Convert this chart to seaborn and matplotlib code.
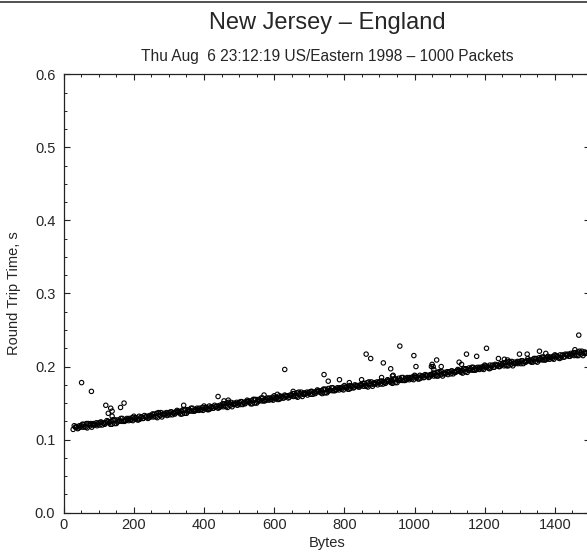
import numpy as np
import pandas as pd
import matplotlib
matplotlib.use("Agg")
import matplotlib.pyplot as plt
from matplotlib.ticker import MultipleLocator, FormatStrFormatter
from matplotlib.lines import Line2D
import seaborn as sns

# main band of round trip times (four interleaved runs)
bytes_a = [30, 40, 50, 60, 70, 80, 90, 100, 110, 120,
           130, 140, 150, 160, 170, 180, 190, 200, 210, 220,
           230, 240, 250, 260, 270, 280, 290, 300, 310, 320,
           330, 340, 350, 360, 370, 380, 390, 400, 410, 420,
           430, 440, 450, 460, 470, 480, 490, 500, 510, 520,
           530, 540, 550, 560, 570, 580, 590, 600, 610, 620,
           630, 640, 650, 660, 670, 680, 690, 700, 710, 720,
           730, 740, 750, 760, 770, 780, 790, 800, 810, 820,
           830, 840, 850, 860, 870, 880, 890, 900, 910, 920,
           930, 940, 950, 960, 970, 980, 990, 1000, 1010, 1020,
           1030, 1040, 1050, 1060, 1070, 1080, 1090, 1100, 1110, 1120,
           1130, 1140, 1150, 1160, 1170, 1180, 1190, 1200, 1210, 1220,
           1230, 1240, 1250, 1260, 1270, 1280, 1290, 1300, 1310, 1320,
           1330, 1340, 1350, 1360, 1370, 1380, 1390, 1400, 1410, 1420,
           1430, 1440, 1450, 1460, 1470, 1480, 1490]
rtt_a = [0.119, 0.115, 0.119, 0.118, 0.122, 0.117, 0.121, 0.123, 0.120, 0.123,
         0.123, 0.127, 0.122, 0.126, 0.125, 0.129, 0.127, 0.132, 0.127, 0.131,
         0.133, 0.129, 0.133, 0.132, 0.137, 0.131, 0.135, 0.137, 0.134, 0.138,
         0.137, 0.141, 0.136, 0.140, 0.139, 0.143, 0.141, 0.146, 0.141, 0.145,
         0.147, 0.143, 0.147, 0.146, 0.151, 0.145, 0.149, 0.151, 0.148, 0.152,
         0.151, 0.155, 0.150, 0.154, 0.153, 0.157, 0.155, 0.160, 0.155, 0.159,
         0.161, 0.157, 0.161, 0.160, 0.165, 0.159, 0.163, 0.165, 0.162, 0.166,
         0.165, 0.169, 0.164, 0.168, 0.167, 0.171, 0.170, 0.174, 0.169, 0.173,
         0.175, 0.172, 0.175, 0.174, 0.179, 0.173, 0.177, 0.179, 0.176, 0.180,
         0.179, 0.183, 0.178, 0.182, 0.181, 0.185, 0.184, 0.188, 0.183, 0.187,
         0.189, 0.185, 0.189, 0.188, 0.193, 0.187, 0.191, 0.193, 0.190, 0.194,
         0.193, 0.197, 0.192, 0.197, 0.195, 0.199, 0.198, 0.202, 0.198, 0.201,
         0.203, 0.200, 0.203, 0.202, 0.207, 0.201, 0.205, 0.207, 0.204, 0.208,
         0.207, 0.211, 0.206, 0.211, 0.209, 0.214, 0.212, 0.216, 0.212, 0.215,
         0.217, 0.214, 0.217, 0.216, 0.221, 0.215, 0.219]

bytes_b = [35, 45, 55, 65, 75, 85, 95, 105, 115, 125,
           135, 145, 155, 165, 175, 185, 195, 205, 215, 225,
           235, 245, 255, 265, 275, 285, 295, 305, 315, 325,
           335, 345, 355, 365, 375, 385, 395, 405, 415, 425,
           435, 445, 455, 465, 475, 485, 495, 505, 515, 525,
           535, 545, 555, 565, 575, 585, 595, 605, 615, 625,
           635, 645, 655, 665, 675, 685, 695, 705, 715, 725,
           735, 745, 755, 765, 775, 785, 795, 805, 815, 825,
           835, 845, 855, 865, 875, 885, 895, 905, 915, 925,
           935, 945, 955, 965, 975, 985, 995, 1005, 1015, 1025,
           1035, 1045, 1055, 1065, 1075, 1085, 1095, 1105, 1115, 1125,
           1135, 1145, 1155, 1165, 1175, 1185, 1195, 1205, 1215, 1225,
           1235, 1245, 1255, 1265, 1275, 1285, 1295, 1305, 1315, 1325,
           1335, 1345, 1355, 1365, 1375, 1385, 1395, 1405, 1415, 1425,
           1435, 1445, 1455, 1465, 1475, 1485]
rtt_b = [0.117, 0.119, 0.117, 0.122, 0.119, 0.122, 0.119, 0.124, 0.122, 0.124,
         0.125, 0.122, 0.127, 0.125, 0.127, 0.126, 0.130, 0.128, 0.132, 0.129,
         0.131, 0.133, 0.131, 0.136, 0.133, 0.136, 0.133, 0.138, 0.136, 0.138,
         0.139, 0.136, 0.141, 0.139, 0.141, 0.140, 0.144, 0.142, 0.146, 0.143,
         0.145, 0.147, 0.145, 0.150, 0.147, 0.150, 0.147, 0.152, 0.150, 0.152,
         0.153, 0.150, 0.155, 0.153, 0.155, 0.154, 0.158, 0.156, 0.160, 0.157,
         0.159, 0.161, 0.159, 0.164, 0.161, 0.164, 0.161, 0.166, 0.164, 0.166,
         0.167, 0.164, 0.170, 0.167, 0.169, 0.168, 0.172, 0.171, 0.174, 0.171,
         0.173, 0.175, 0.173, 0.178, 0.175, 0.178, 0.175, 0.180, 0.178, 0.180,
         0.181, 0.178, 0.184, 0.181, 0.184, 0.182, 0.186, 0.185, 0.188, 0.185,
         0.187, 0.189, 0.187, 0.192, 0.189, 0.192, 0.189, 0.194, 0.192, 0.194,
         0.195, 0.193, 0.198, 0.195, 0.198, 0.196, 0.200, 0.199, 0.202, 0.199,
         0.201, 0.204, 0.201, 0.206, 0.203, 0.206, 0.204, 0.208, 0.206, 0.208,
         0.209, 0.207, 0.212, 0.209, 0.212, 0.210, 0.214, 0.213, 0.216, 0.213,
         0.215, 0.218, 0.215, 0.220, 0.217, 0.220]

bytes_c = [27, 37, 47, 57, 67, 77, 87, 97, 107, 117,
           127, 137, 147, 157, 167, 177, 187, 197, 207, 217,
           227, 237, 247, 257, 267, 277, 287, 297, 307, 317,
           327, 337, 347, 357, 367, 377, 387, 397, 407, 417,
           427, 437, 447, 457, 467, 477, 487, 497, 507, 517,
           527, 537, 547, 557, 567, 577, 587, 597, 607, 617,
           627, 637, 647, 657, 667, 677, 687, 697, 707, 717,
           727, 737, 747, 757, 767, 777, 787, 797, 807, 817,
           827, 837, 847, 857, 867, 877, 887, 897, 907, 917,
           927, 937, 947, 957, 967, 977, 987, 997, 1007, 1017,
           1027, 1037, 1047, 1057, 1067, 1077, 1087, 1097, 1107, 1117,
           1127, 1137, 1147, 1157, 1167, 1177, 1187, 1197, 1207, 1217,
           1227, 1237, 1247, 1257, 1267, 1277, 1287, 1297, 1307, 1317,
           1327, 1337, 1347, 1357, 1367, 1377, 1387, 1397, 1407, 1417,
           1427, 1437, 1447, 1457, 1467, 1477, 1487]
rtt_c = [0.114, 0.118, 0.117, 0.121, 0.116, 0.122, 0.120, 0.121, 0.124, 0.121,
         0.125, 0.121, 0.127, 0.125, 0.129, 0.126, 0.129, 0.126, 0.130, 0.128,
         0.129, 0.132, 0.131, 0.135, 0.130, 0.137, 0.134, 0.135, 0.138, 0.135,
         0.139, 0.135, 0.141, 0.139, 0.143, 0.140, 0.143, 0.140, 0.144, 0.142,
         0.143, 0.146, 0.145, 0.149, 0.144, 0.151, 0.148, 0.149, 0.152, 0.149,
         0.153, 0.149, 0.155, 0.153, 0.157, 0.154, 0.157, 0.154, 0.158, 0.156,
         0.157, 0.160, 0.160, 0.163, 0.158, 0.165, 0.162, 0.164, 0.166, 0.163,
         0.167, 0.163, 0.169, 0.167, 0.171, 0.168, 0.171, 0.168, 0.172, 0.170,
         0.171, 0.174, 0.174, 0.177, 0.172, 0.179, 0.176, 0.178, 0.180, 0.177,
         0.181, 0.177, 0.183, 0.181, 0.185, 0.182, 0.185, 0.182, 0.186, 0.184,
         0.185, 0.188, 0.188, 0.191, 0.187, 0.193, 0.190, 0.192, 0.194, 0.192,
         0.195, 0.191, 0.197, 0.195, 0.199, 0.196, 0.199, 0.196, 0.200, 0.198,
         0.199, 0.202, 0.202, 0.205, 0.201, 0.207, 0.204, 0.206, 0.208, 0.206,
         0.209, 0.206, 0.211, 0.209, 0.213, 0.210, 0.213, 0.210, 0.214, 0.212,
         0.213, 0.217, 0.216, 0.219, 0.215, 0.221, 0.218]

bytes_d = [33, 43, 53, 63, 73, 83, 93, 103, 113, 123,
           133, 143, 153, 163, 173, 183, 193, 203, 213, 223,
           233, 243, 253, 263, 273, 283, 293, 303, 313, 323,
           333, 343, 353, 363, 373, 383, 393, 403, 413, 423,
           433, 443, 453, 463, 473, 483, 493, 503, 513, 523,
           533, 543, 553, 563, 573, 583, 593, 603, 613, 623,
           633, 643, 653, 663, 673, 683, 693, 703, 713, 723,
           733, 743, 753, 763, 773, 783, 793, 803, 813, 823,
           833, 843, 853, 863, 873, 883, 893, 903, 913, 923,
           933, 943, 953, 963, 973, 983, 993, 1003, 1013, 1023,
           1033, 1043, 1053, 1063, 1073, 1083, 1093, 1103, 1113, 1123,
           1133, 1143, 1153, 1163, 1173, 1183, 1193, 1203, 1213, 1223,
           1233, 1243, 1253, 1263, 1273, 1283, 1293, 1303, 1313, 1323,
           1333, 1343, 1353, 1363, 1373, 1383, 1393, 1403, 1413, 1423,
           1433, 1443, 1453, 1463, 1473, 1483]
rtt_d = [0.117, 0.116, 0.121, 0.117, 0.121, 0.120, 0.123, 0.120, 0.123, 0.126,
         0.121, 0.127, 0.124, 0.129, 0.125, 0.128, 0.127, 0.130, 0.127, 0.131,
         0.131, 0.130, 0.135, 0.131, 0.135, 0.134, 0.137, 0.134, 0.137, 0.140,
         0.135, 0.141, 0.138, 0.143, 0.139, 0.142, 0.141, 0.144, 0.141, 0.145,
         0.145, 0.144, 0.149, 0.145, 0.149, 0.148, 0.151, 0.148, 0.151, 0.154,
         0.149, 0.155, 0.152, 0.157, 0.153, 0.156, 0.155, 0.158, 0.155, 0.159,
         0.160, 0.158, 0.163, 0.159, 0.163, 0.162, 0.165, 0.162, 0.165, 0.168,
         0.164, 0.169, 0.166, 0.171, 0.167, 0.170, 0.169, 0.172, 0.169, 0.173,
         0.174, 0.172, 0.177, 0.173, 0.177, 0.176, 0.179, 0.176, 0.179, 0.182,
         0.178, 0.183, 0.181, 0.185, 0.181, 0.184, 0.183, 0.187, 0.183, 0.187,
         0.188, 0.186, 0.191, 0.187, 0.191, 0.190, 0.193, 0.190, 0.193, 0.196,
         0.192, 0.197, 0.195, 0.199, 0.195, 0.198, 0.197, 0.201, 0.197, 0.202,
         0.202, 0.200, 0.205, 0.201, 0.205, 0.204, 0.207, 0.204, 0.207, 0.211,
         0.206, 0.211, 0.209, 0.213, 0.209, 0.212, 0.211, 0.215, 0.211, 0.216,
         0.216, 0.214, 0.219, 0.215, 0.219, 0.218]

# the stray slow packets above the band
bytes_out = [51, 79, 120, 134, 127, 138, 138, 162, 172, 342, 440, 457, 469,
             571, 609, 630, 654, 742, 754, 786, 814, 849, 862, 875, 906, 911,
             932, 937, 939, 958, 998, 1004, 1048, 1050, 1053, 1055, 1063, 1076,
             1127, 1134, 1148, 1177, 1205, 1239, 1256, 1265, 1299, 1321, 1356,
             1374, 1457, 1468]
rtt_out = [0.178, 0.166, 0.147, 0.143, 0.136, 0.139, 0.132, 0.144, 0.150, 0.147,
           0.159, 0.153, 0.154, 0.161, 0.162, 0.196, 0.166, 0.189, 0.180, 0.182,
           0.178, 0.182, 0.217, 0.211, 0.185, 0.205, 0.197, 0.187, 0.188, 0.228,
           0.215, 0.200, 0.200, 0.203, 0.200, 0.196, 0.209, 0.200, 0.206, 0.203,
           0.217, 0.214, 0.225, 0.211, 0.210, 0.209, 0.217, 0.217, 0.221, 0.218,
           0.223, 0.243]

df = pd.DataFrame({
    "Bytes": bytes_a + bytes_b + bytes_c + bytes_d + bytes_out,
    "RTT": rtt_a + rtt_b + rtt_c + rtt_d + rtt_out,
})

sns.set_style("ticks")
plt.rcParams["font.family"] = ["Liberation Sans", "DejaVu Sans"]

fig = plt.figure(figsize=(5.87, 5.56), dpi=100)
ax = fig.add_axes([0.1085, 0.0779, 0.8966, 0.7885])

sns.scatterplot(data=df, x="Bytes", y="RTT", ax=ax, marker="o", s=10,
                facecolors="none", edgecolors="black", linewidth=0.8)

ax.set_xlim(0, 1500)
ax.set_ylim(0, 0.6)
ax.xaxis.set_major_locator(MultipleLocator(200))
ax.xaxis.set_minor_locator(MultipleLocator(50))
ax.yaxis.set_major_locator(MultipleLocator(0.1))
ax.yaxis.set_minor_locator(MultipleLocator(0.025))
ax.yaxis.set_major_formatter(FormatStrFormatter("%.1f"))
ax.tick_params(which="both", direction="in", top=True, right=True,
               color="#222222", labelsize=10.5)
ax.tick_params(which="major", length=4, width=0.8)
ax.tick_params(which="minor", length=2, width=0.7)
ax.tick_params(axis="y", pad=6)
ax.tick_params(axis="x", pad=4)
for sp in ax.spines.values():
    sp.set_linewidth(0.9)
    sp.set_color("#222222")

ax.set_xlabel("Bytes", fontsize=10.5, labelpad=3)
ax.set_ylabel("Round Trip Time, s", fontsize=10.5, labelpad=10)

fig.text(0.557, 1 - 23 / 556, "New Jersey \u2013 England", ha="center",
         va="center", fontsize=17)
fig.text(0.557, 1 - 56 / 556, "Thu Aug  6 23:12:19 US/Eastern 1998 \u2013 1000 Packets",
         ha="center", va="center", fontsize=11.2)
fig.add_artist(Line2D([0, 1], [1 - 2 / 556, 1 - 2 / 556], color="#333333",
                      linewidth=1.2, transform=fig.transFigure))

fig.savefig("out.png", dpi=100)
